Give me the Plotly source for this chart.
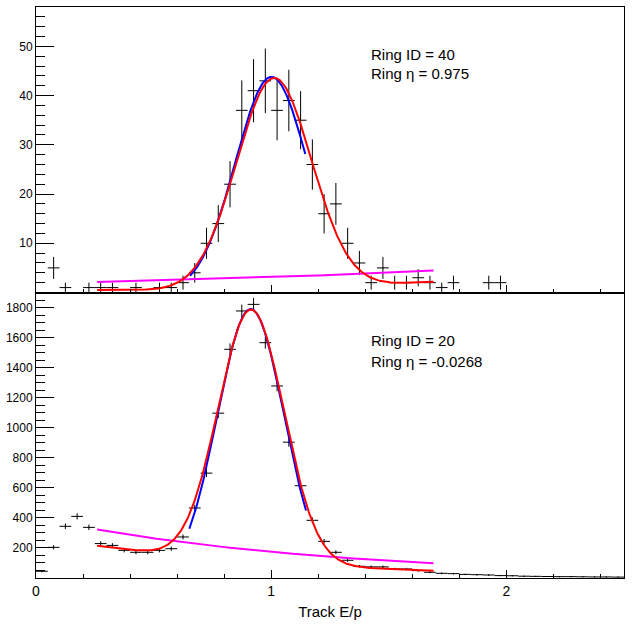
import numpy as np
import plotly.graph_objects as go

# ---------------- data ----------------
bin_half_width = 0.025

top_x = [0.075, 0.125, 0.225, 0.275, 0.325, 0.425, 0.525, 0.575, 0.625, 0.675,
         0.725, 0.775, 0.825, 0.875, 0.925, 0.975, 1.025, 1.075, 1.125, 1.175,
         1.225, 1.275, 1.325, 1.375, 1.425, 1.475, 1.525, 1.575, 1.625, 1.675,
         1.725, 1.775, 1.925, 1.975]
top_counts = [5, 1, 1, 1, 1, 1, 1, 1, 2, 4,
              10, 14, 22, 37, 41, 43, 37, 39, 35, 26,
              16, 18, 10, 6, 2, 5, 2, 2, 3, 2,
              1, 2, 2, 2]

bot_x = [round(0.025 + 0.05 * i, 3) for i in range(50)]
bot_counts = [45, 204, 344, 410, 337, 229, 217, 184, 171, 171,
              184, 195, 273, 466, 698, 1097, 1522, 1777, 1821, 1566,
              1278, 904, 614, 384, 244, 171, 118, 78, 74, 74,
              60, 60, 49, 38, 31, 29, 24, 22, 20, 16,
              15, 12, 11, 10, 9, 9, 8, 7, 7, 6]

# fit results (gaussian: amplitude, mean, sigma), ranges
top_red_gaus = [42.8, 1.012, 0.159]
top_red_pol2 = [0.752, -1.165, 1.197]
top_red_range = [0.26, 1.69]
top_blue_gaus = [43.8, 1.001, 0.153]
top_blue_range = [0.655, 1.145]
top_mag_expo = [0.633, 0.509]
top_mag_range = [0.26, 1.69]

bot_red_gaus = [1678.0, 0.915, 0.139]
bot_red_expo = [5.639, -1.034]
bot_red_range = [0.26, 1.69]
bot_blue_gaus = [1790.0, 0.9127, 0.1415]
bot_blue_range = [0.652, 1.148]
bot_mag_expo = [5.991, -0.832]
bot_mag_range = [0.26, 1.69]

top_labels = ["Ring ID = 40", "Ring \u03b7 = 0.975"]
bot_labels = ["Ring ID = 20", "Ring \u03b7 = -0.0268"]

x_title = "Track E/p"

# ---------------- helpers ----------------
def gaus(x, p):
    return p[0] * np.exp(-0.5 * ((x - p[1]) / p[2]) ** 2)

def expo(x, p):
    return np.exp(p[0] + p[1] * x)

def pol2(x, p):
    return p[0] + p[1] * x + p[2] * x ** 2

def grid(r):
    return np.linspace(r[0], r[1], 300)

FONT = "Liberation Sans, Arial, Helvetica, sans-serif"
RED, BLUE, MAG = "#ff0000", "#0000ff", "#ff00ff"

fig = go.Figure()

def add_hist(x, counts, xa, ya):
    fig.add_trace(go.Scatter(
        x=x, y=counts, mode="markers", xaxis=xa, yaxis=ya,
        marker=dict(size=1, color="black"),
        error_x=dict(type="constant", value=bin_half_width, width=0,
                     thickness=1, color="black"),
        error_y=dict(type="data", array=list(np.sqrt(np.array(counts, float))),
                     width=0, thickness=1, color="black"),
        showlegend=False, hoverinfo="skip"))

def add_line(xs, ys, color, xa, ya):
    fig.add_trace(go.Scatter(x=xs, y=ys, mode="lines", xaxis=xa, yaxis=ya,
                             line=dict(color=color, width=2),
                             showlegend=False, hoverinfo="skip"))

# top pad
add_hist(top_x, top_counts, "x", "y")
g = grid(top_mag_range)
add_line(g, expo(g, top_mag_expo), MAG, "x", "y")
g = grid(top_blue_range)
add_line(g, gaus(g, top_blue_gaus), BLUE, "x", "y")
g = grid(top_red_range)
add_line(g, gaus(g, top_red_gaus) + pol2(g, top_red_pol2), RED, "x", "y")

# bottom pad
add_hist(bot_x, bot_counts, "x2", "y2")
g = grid(bot_mag_range)
add_line(g, expo(g, bot_mag_expo), MAG, "x2", "y2")
g = grid(bot_blue_range)
add_line(g, gaus(g, bot_blue_gaus), BLUE, "x2", "y2")
g = grid(bot_red_range)
add_line(g, gaus(g, bot_red_gaus) + expo(g, bot_red_expo), RED, "x2", "y2")

axis_common = dict(showline=True, mirror=True, linecolor="black", linewidth=1,
                   showgrid=False, zeroline=False, ticks="inside",
                   tickcolor="black", tickwidth=1)

xmaj = dict(range=[0, 2.5], tick0=0, dtick=1, ticklen=8,
            minor=dict(tick0=0, dtick=0.2, ticklen=4, ticks="inside",
                       tickcolor="black", tickwidth=1))

fig.update_layout(
    width=632, height=626,
    margin=dict(l=36, r=8, t=7, b=48),
    paper_bgcolor="white", plot_bgcolor="white",
    font=dict(family=FONT, color="black"),
    xaxis=dict(domain=[0, 1], anchor="y", showticklabels=False,
               **xmaj, **axis_common),
    yaxis=dict(domain=[0.5, 1], anchor="x", range=[0, 58],
               tickmode="array", tickvals=[10, 20, 30, 40, 50], ticklen=18,
               tickfont=dict(size=12, family=FONT),
               minor=dict(tickmode="linear", tick0=0, dtick=2, ticklen=9,
                          ticks="inside", tickcolor="black", tickwidth=1),
               **axis_common),
    xaxis2=dict(domain=[0, 1], anchor="y2",
                tickfont=dict(size=14, family=FONT),
                title=dict(text=x_title, font=dict(size=15, family=FONT),
                           standoff=8),
                **xmaj, **axis_common),
    yaxis2=dict(domain=[0, 0.5], anchor="x2", range=[0, 1900],
                tickmode="array", tickvals=list(range(200, 1801, 200)),
                ticklen=18, tickfont=dict(size=12, family=FONT),
                minor=dict(tickmode="linear", tick0=0, dtick=50, ticklen=9,
                           ticks="inside", tickcolor="black", tickwidth=1),
                **axis_common),
)

def px_to_paper(px, py):
    return (px - 36) / 588.0, (578 - py) / 571.0

for txt, py in zip(top_labels, [54, 73.5]):
    xp, yp = px_to_paper(369, py)
    fig.add_annotation(text=txt, x=xp, y=yp, xref="paper", yref="paper",
                       xanchor="left", yanchor="middle", showarrow=False,
                       font=dict(size=15, family=FONT, color="black"))
for txt, py in zip(bot_labels, [341, 361]):
    xp, yp = px_to_paper(369, py)
    fig.add_annotation(text=txt, x=xp, y=yp, xref="paper", yref="paper",
                       xanchor="left", yanchor="middle", showarrow=False,
                       font=dict(size=15, family=FONT, color="black"))

fig.write_html("out.html")
